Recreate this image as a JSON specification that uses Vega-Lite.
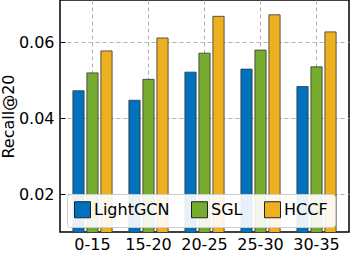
{
  "$schema": "https://vega.github.io/schema/vega-lite/v6.json",
  "width": 289,
  "height": 232,
  "autosize": "none",
  "padding": {"left": 60, "top": 0, "right": 1, "bottom": 21},
  "config": {
    "font": "DejaVu Sans",
    "view": {"stroke": "black", "strokeWidth": 1.5},
    "axis": {
      "labelFont": "DejaVu Sans", "labelFontSize": 16, "labelColor": "black",
      "titleFont": "DejaVu Sans", "titleFontSize": 16, "titleFontWeight": "normal", "titleColor": "black",
      "gridColor": "#b0b0b0", "gridDash": [4, 3], "gridWidth": 1,
      "domain": false, "tickColor": "black", "tickSize": -5, "tickWidth": 1
    },
    "legend": {
      "orient": "none", "legendX": 7, "legendY": 194, "direction": "horizontal",
      "symbolType": "square", "symbolSize": 256, "symbolStrokeColor": "#222", "symbolStrokeWidth": 1,
      "symbolOpacity": 1,
      "labelFont": "DejaVu Sans", "labelFontSize": 16, "labelColor": "black", "labelOffset": 3,
      "columnPadding": 19, "padding": 7, "strokeColor": "#cccccc", "fillColor": "rgba(255,255,255,0.9)", "cornerRadius": 3
    }
  },
  "data": {
    "values": [
      {"group": "0-15", "model": "LightGCN", "recall": 0.0472},
      {"group": "0-15", "model": "SGL", "recall": 0.0519},
      {"group": "0-15", "model": "HCCF", "recall": 0.0577},
      {"group": "15-20", "model": "LightGCN", "recall": 0.0447},
      {"group": "15-20", "model": "SGL", "recall": 0.0502},
      {"group": "15-20", "model": "HCCF", "recall": 0.0611},
      {"group": "20-25", "model": "LightGCN", "recall": 0.0521},
      {"group": "20-25", "model": "SGL", "recall": 0.0571},
      {"group": "20-25", "model": "HCCF", "recall": 0.0668},
      {"group": "25-30", "model": "LightGCN", "recall": 0.0529},
      {"group": "25-30", "model": "SGL", "recall": 0.0579},
      {"group": "25-30", "model": "HCCF", "recall": 0.0672},
      {"group": "30-35", "model": "LightGCN", "recall": 0.0483},
      {"group": "30-35", "model": "SGL", "recall": 0.0535},
      {"group": "30-35", "model": "HCCF", "recall": 0.0627}
    ]
  },
  "mark": {"type": "bar", "stroke": "#333", "strokeWidth": 0.8, "clip": true},
  "encoding": {
    "x": {
      "field": "group", "type": "nominal",
      "sort": ["0-15", "15-20", "20-25", "25-30", "30-35"],
      "scale": {"paddingInner": 0.3, "paddingOuter": 0.23},
      "axis": {"title": null, "labelAngle": 0, "labelPadding": 9, "grid": true}
    },
    "xOffset": {
      "field": "model", "type": "nominal",
      "sort": ["LightGCN", "SGL", "HCCF"],
      "scale": {"paddingInner": 0.2}
    },
    "y": {
      "field": "recall", "type": "quantitative",
      "scale": {"domain": [0.01, 0.0711], "nice": false, "zero": false},
      "axis": {"title": "Recall@20", "values": [0.02, 0.04, 0.06], "format": ".2f", "grid": true, "labelPadding": 11, "titlePadding": 2}
    },
    "color": {
      "field": "model", "type": "nominal",
      "sort": ["LightGCN", "SGL", "HCCF"],
      "scale": {"domain": ["LightGCN", "SGL", "HCCF"], "range": ["#0072BD", "#77AC30", "#EDB120"]},
      "legend": {"title": null}
    }
  }
}
